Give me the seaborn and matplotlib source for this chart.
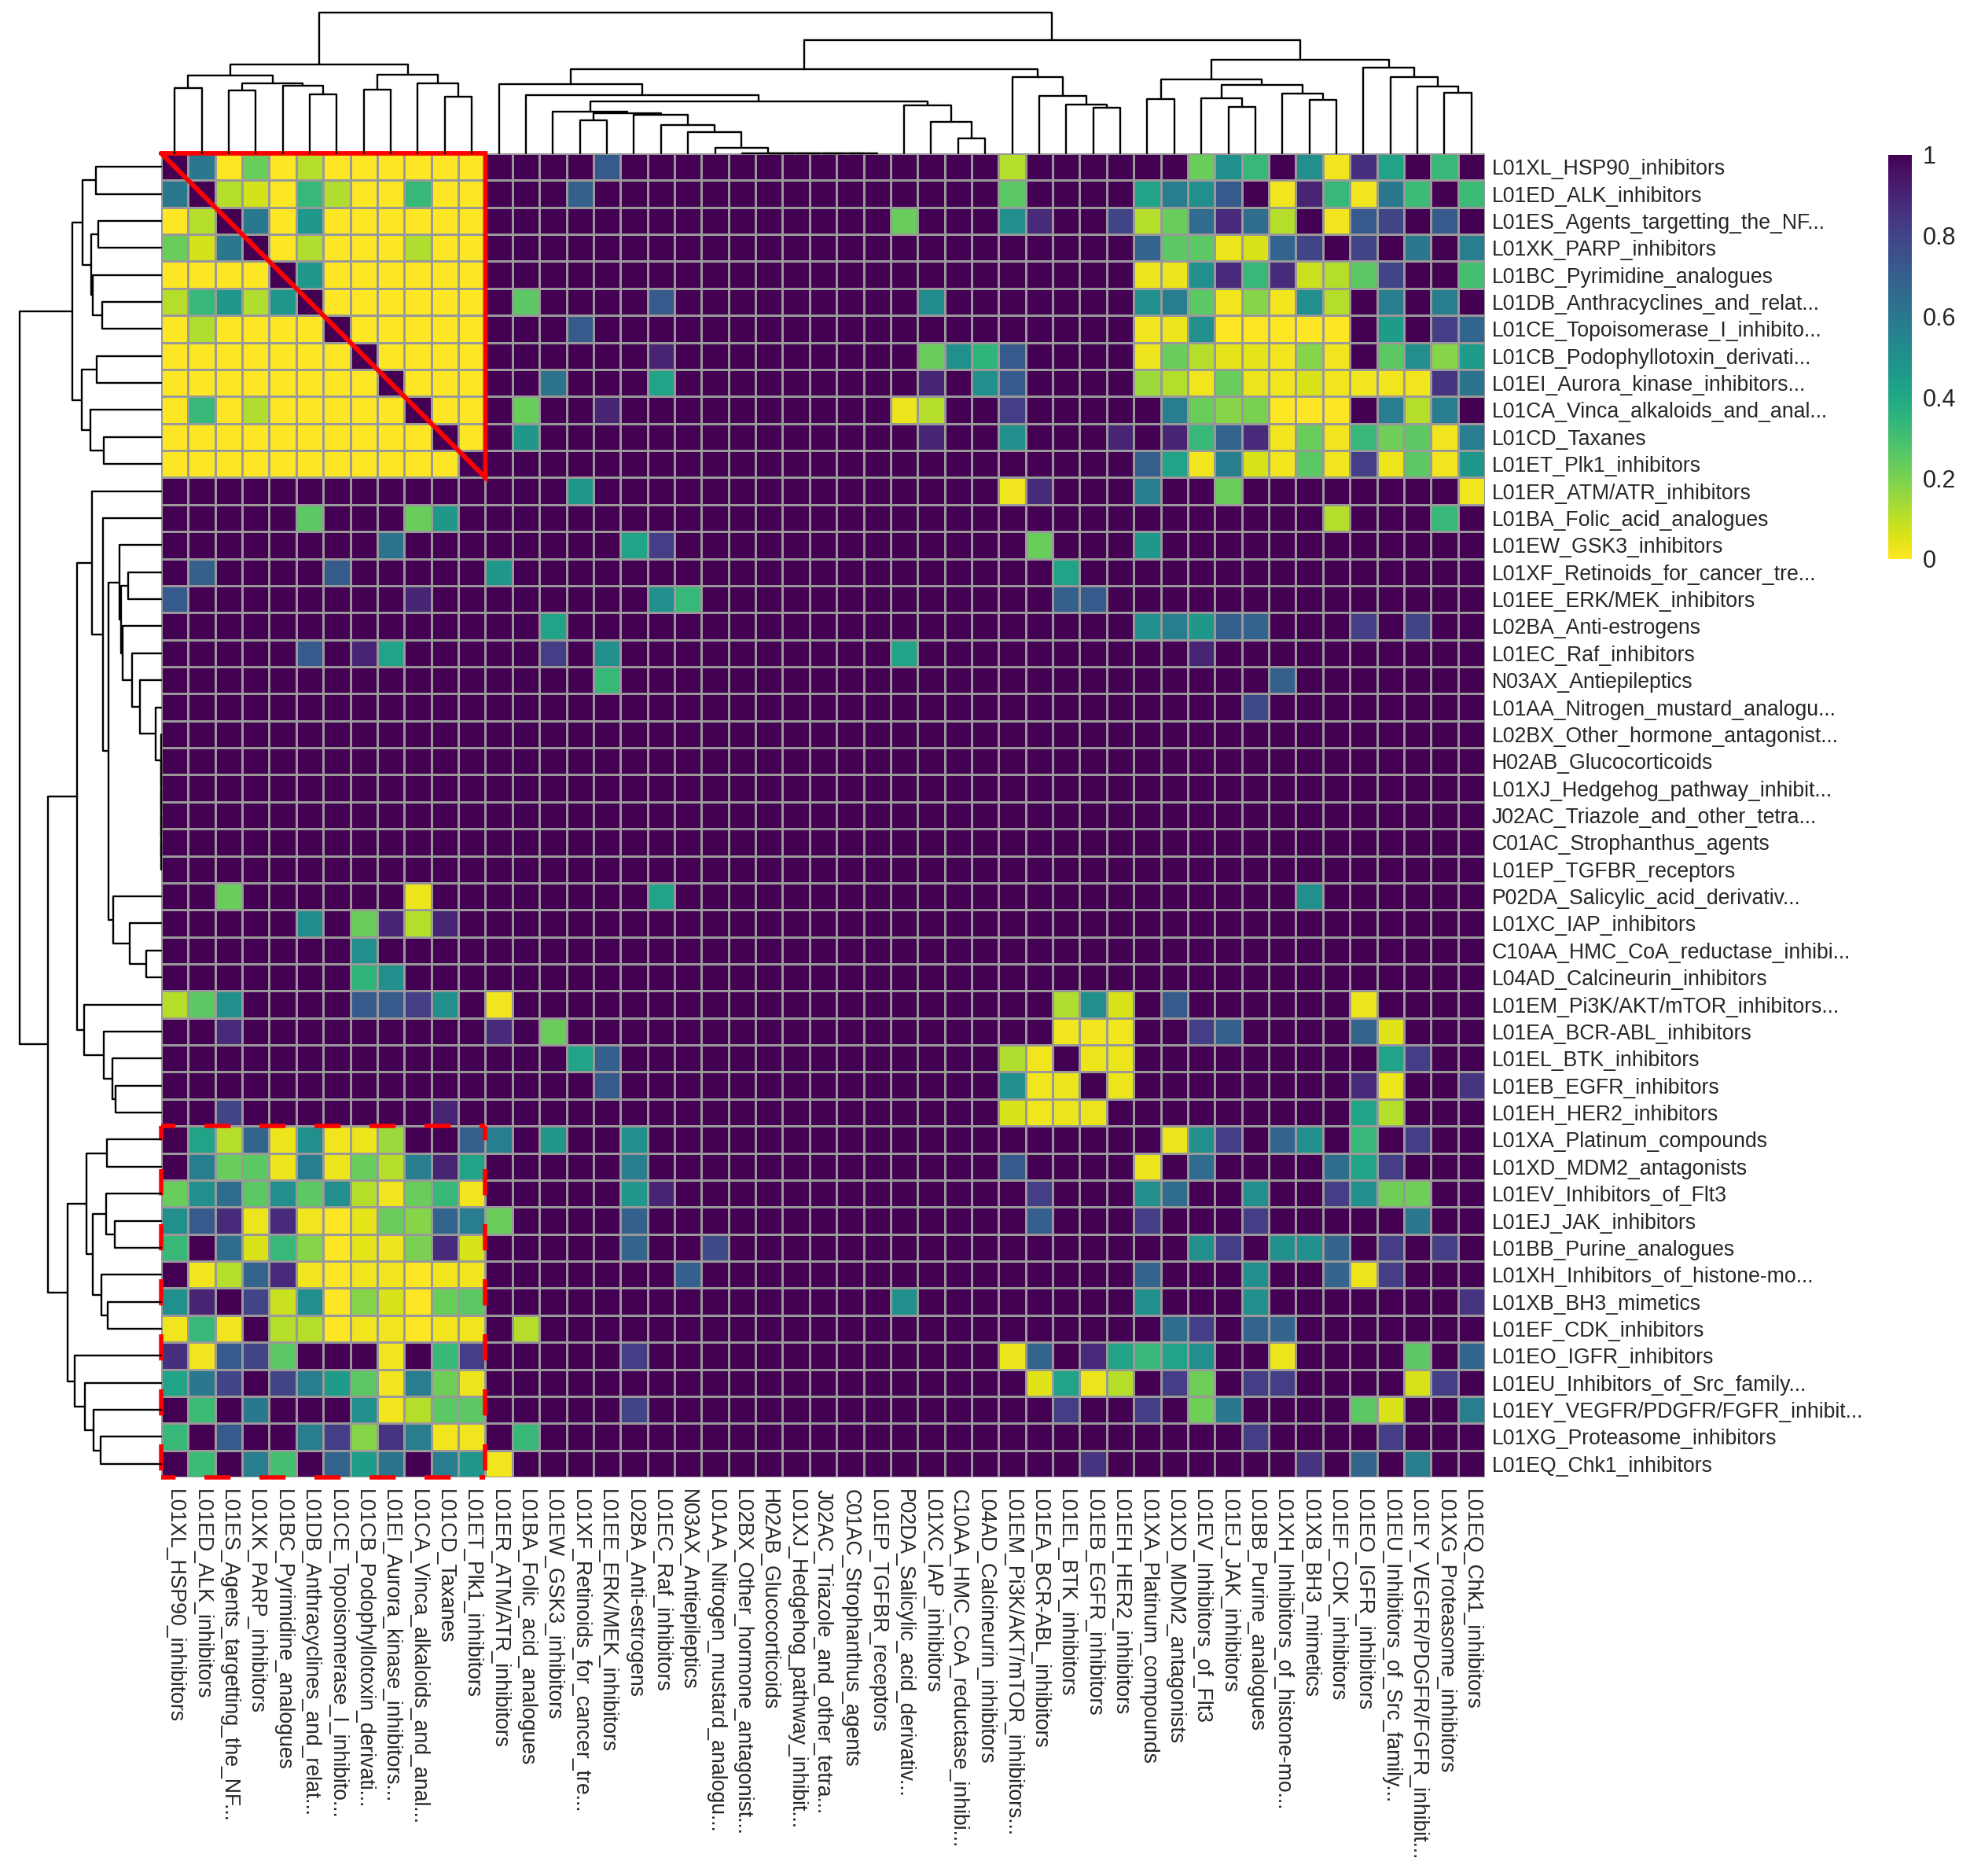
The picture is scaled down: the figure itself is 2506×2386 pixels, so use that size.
import numpy as np
import pandas as pd
import matplotlib
matplotlib.use("Agg")
import matplotlib.pyplot as plt
import seaborn as sns

# drug classes, same order for rows and columns (clustered order)
labels = [
    "L01XL_HSP90_inhibitors",
    "L01ED_ALK_inhibitors",
    "L01ES_Agents_targetting_the_NF...",
    "L01XK_PARP_inhibitors",
    "L01BC_Pyrimidine_analogues",
    "L01DB_Anthracyclines_and_relat...",
    "L01CE_Topoisomerase_I_inhibito...",
    "L01CB_Podophyllotoxin_derivati...",
    "L01EI_Aurora_kinase_inhibitors...",
    "L01CA_Vinca_alkaloids_and_anal...",
    "L01CD_Taxanes",
    "L01ET_Plk1_inhibitors",
    "L01ER_ATM/ATR_inhibitors",
    "L01BA_Folic_acid_analogues",
    "L01EW_GSK3_inhibitors",
    "L01XF_Retinoids_for_cancer_tre...",
    "L01EE_ERK/MEK_inhibitors",
    "L02BA_Anti-estrogens",
    "L01EC_Raf_inhibitors",
    "N03AX_Antiepileptics",
    "L01AA_Nitrogen_mustard_analogu...",
    "L02BX_Other_hormone_antagonist...",
    "H02AB_Glucocorticoids",
    "L01XJ_Hedgehog_pathway_inhibit...",
    "J02AC_Triazole_and_other_tetra...",
    "C01AC_Strophanthus_agents",
    "L01EP_TGFBR_receptors",
    "P02DA_Salicylic_acid_derivativ...",
    "L01XC_IAP_inhibitors",
    "C10AA_HMC_CoA_reductase_inhibi...",
    "L04AD_Calcineurin_inhibitors",
    "L01EM_Pi3K/AKT/mTOR_inhibitors...",
    "L01EA_BCR-ABL_inhibitors",
    "L01EL_BTK_inhibitors",
    "L01EB_EGFR_inhibitors",
    "L01EH_HER2_inhibitors",
    "L01XA_Platinum_compounds",
    "L01XD_MDM2_antagonists",
    "L01EV_Inhibitors_of_Flt3",
    "L01EJ_JAK_inhibitors",
    "L01BB_Purine_analogues",
    "L01XH_Inhibitors_of_histone-mo...",
    "L01XB_BH3_mimetics",
    "L01EF_CDK_inhibitors",
    "L01EO_IGFR_inhibitors",
    "L01EU_Inhibitors_of_Src_family...",
    "L01EY_VEGFR/PDGFR/FGFR_inhibit...",
    "L01XG_Proteasome_inhibitors",
    "L01EQ_Chk1_inhibitors",
]

# the first 12 classes: pairwise values are 0 except these (row, col, value)
first_cluster = labels[:12]
first_cluster_cells = [
    (0, 1, .60), (0, 3, .23), (0, 5, .11),
    (1, 2, .11), (1, 3, .07), (1, 5, .33), (1, 6, .12), (1, 9, .33),
    (2, 3, .60), (2, 5, .47),
    (3, 5, .12), (3, 9, .12),
    (4, 5, .47),
]

# everything else is 1 except these cells (upper triangle, matrix is symmetric)
other_cells = [
    (0, 16, .72), (0, 31, .11), (0, 38, .23), (0, 39, .50), (0, 40, .33), (0, 42, .50),
    (0, 43, .02), (0, 44, .86), (0, 45, .42), (0, 47, .33),
    (1, 15, .70), (1, 31, .25), (1, 36, .42), (1, 37, .58), (1, 38, .50), (1, 39, .72),
    (1, 41, .02), (1, 42, .90), (1, 43, .33), (1, 44, .02), (1, 45, .60), (1, 46, .32), (1, 48, .32),
    (2, 27, .23), (2, 31, .50), (2, 32, .88), (2, 35, .80), (2, 36, .11), (2, 37, .23),
    (2, 38, .65), (2, 39, .88), (2, 40, .65), (2, 41, .11), (2, 43, .02), (2, 44, .72),
    (2, 45, .80), (2, 47, .72),
    (3, 36, .68), (3, 37, .25), (3, 38, .25), (3, 39, .03), (3, 40, .06), (3, 41, .68),
    (3, 42, .80), (3, 44, .80), (3, 46, .60), (3, 48, .58),
    (4, 36, .03), (4, 37, .03), (4, 38, .50), (4, 39, .88), (4, 40, .33), (4, 41, .88),
    (4, 42, .08), (4, 43, .11), (4, 44, .25), (4, 45, .80), (4, 48, .30),
    (5, 13, .25), (5, 18, .72), (5, 28, .52), (5, 36, .50), (5, 37, .58), (5, 38, .25),
    (5, 39, .02), (5, 40, .18), (5, 41, .02), (5, 42, .50), (5, 43, .11), (5, 45, .58), (5, 47, .58),
    (6, 15, .72), (6, 36, .02), (6, 37, .03), (6, 38, .50), (6, 39, .0), (6, 40, .0),
    (6, 41, .0), (6, 42, .0), (6, 43, .0), (6, 45, .45), (6, 47, .82), (6, 48, .68),
    (7, 18, .90), (7, 28, .23), (7, 29, .50), (7, 30, .35), (7, 31, .72), (7, 36, .03),
    (7, 37, .23), (7, 38, .11), (7, 39, .04), (7, 40, .04), (7, 41, .02), (7, 42, .18),
    (7, 43, .02), (7, 45, .25), (7, 46, .50), (7, 47, .18), (7, 48, .45),
    (8, 14, .62), (8, 18, .42), (8, 28, .90), (8, 30, .50), (8, 31, .72), (8, 36, .15),
    (8, 37, .11), (8, 38, .02), (8, 39, .23), (8, 40, .03), (8, 41, .02), (8, 42, .06),
    (8, 43, .02), (8, 44, .02), (8, 45, .02), (8, 46, .02), (8, 47, .85), (8, 48, .62),
    (9, 13, .23), (9, 16, .90), (9, 27, .03), (9, 28, .11), (9, 31, .82), (9, 37, .58),
    (9, 38, .23), (9, 39, .18), (9, 40, .20), (9, 41, .0), (9, 42, .0), (9, 43, .0),
    (9, 45, .58), (9, 46, .11), (9, 47, .58),
    (10, 13, .47), (10, 28, .90), (10, 31, .50), (10, 35, .90), (10, 37, .90), (10, 38, .33),
    (10, 39, .68), (10, 40, .88), (10, 41, .02), (10, 42, .23), (10, 43, .02), (10, 44, .33),
    (10, 45, .22), (10, 46, .25), (10, 47, .02), (10, 48, .58),
    (11, 36, .70), (11, 37, .42), (11, 38, .02), (11, 39, .58), (11, 40, .06), (11, 41, .02),
    (11, 42, .25), (11, 43, .02), (11, 44, .82), (11, 45, .03), (11, 46, .25), (11, 47, .02),
    (11, 48, .47),
    (12, 15, .47), (12, 31, .02), (12, 32, .88), (12, 36, .58), (12, 39, .23), (12, 48, .02),
    (13, 43, .11), (13, 47, .33),
    (14, 17, .42), (14, 18, .82), (14, 32, .23), (14, 36, .47),
    (15, 33, .42),
    (16, 18, .50), (16, 19, .33), (16, 33, .70), (16, 34, .72),
    (17, 36, .50), (17, 37, .58), (17, 38, .47), (17, 39, .70), (17, 40, .68), (17, 44, .82), (17, 46, .80),
    (18, 27, .42), (18, 38, .90),
    (19, 41, .70),
    (20, 40, .78),
    (27, 42, .50),
    (31, 33, .12), (31, 34, .50), (31, 35, .06), (31, 37, .72), (31, 44, .03),
    (32, 33, .02), (32, 34, .02), (32, 35, .02), (32, 38, .82), (32, 39, .70), (32, 44, .68), (32, 45, .05),
    (33, 34, .03), (33, 35, .03), (33, 45, .42), (33, 46, .82),
    (34, 35, .03), (34, 44, .88), (34, 45, .03), (34, 48, .85),
    (35, 44, .42), (35, 45, .11),
    (36, 37, .03), (36, 38, .50), (36, 39, .82), (36, 41, .68), (36, 42, .50), (36, 44, .33), (36, 46, .82),
    (37, 38, .65), (37, 43, .65), (37, 44, .42), (37, 45, .82),
    (38, 40, .50), (38, 43, .82), (38, 44, .50), (38, 45, .22), (38, 46, .22),
    (39, 40, .82), (39, 46, .60),
    (40, 41, .50), (40, 42, .50), (40, 43, .68), (40, 45, .82), (40, 47, .82),
    (41, 43, .68), (41, 44, .03), (41, 45, .82),
    (42, 48, .85),
    (44, 46, .25), (44, 48, .68),
    (45, 46, .06), (45, 47, .82),
    (46, 48, .58),
]

# hierarchical clustering: (left id, right id, height); new ids start at 49
merges = [
    (0, 1, 250), (2, 3, 240), (5, 6, 225), (4, 51, 260), (50, 52, 267),      # 49-53
    (49, 53, 300), (7, 8, 245), (10, 11, 218), (9, 56, 270), (55, 57, 302),  # 54-58
    (54, 58, 340),                                                          # 59
    (25, 26, 0), (24, 60, 0), (23, 61, 0), (22, 62, 0), (21, 63, 0),         # 60-64
    (20, 64, 20), (19, 65, 80), (18, 66, 110), (17, 67, 148), (15, 16, 127), # 65-69
    (69, 68, 153), (14, 70, 160), (29, 30, 57), (28, 72, 120), (27, 73, 183),# 70-74
    (71, 74, 200), (13, 75, 222), (12, 76, 265),                            # 75-77
    (34, 35, 175), (33, 78, 187), (32, 79, 220), (31, 80, 293), (77, 81, 322),  # 78-82
    (36, 37, 207), (39, 40, 178), (38, 84, 210), (42, 43, 205), (41, 86, 228),  # 83-87
    (85, 87, 262), (83, 88, 285),                                           # 88-89
    (47, 48, 232), (46, 90, 257), (45, 91, 292), (44, 92, 330),             # 90-93
    (89, 93, 358), (82, 94, 433), (59, 95, 540),                            # 94-96
]

sns.set_style("white")
plt.rcParams["font.family"] = ["Liberation Sans", "DejaVu Sans"]

n = len(labels)
k = len(first_cluster)
mat = np.ones((n, n))
mat[:k, :k] = 0.0
for i, j, v in first_cluster_cells + other_cells:
    mat[i, j] = v
    mat[j, i] = v
np.fill_diagonal(mat, 1.0)
df = pd.DataFrame(mat, index=labels, columns=labels)

W, H = 2506, 2386
fig = plt.figure(figsize=(W / 200, H / 200), dpi=200)


def box(x0, y0, x1, y1):
    return [x0 / W, 1 - y1 / H, (x1 - x0) / W, (y1 - y0) / H]


ax = fig.add_axes(box(205, 195, 1889, 1879))
ax_top = fig.add_axes(box(205, 16, 1889, 195))
ax_left = fig.add_axes(box(25, 195, 205, 1879))
cax = fig.add_axes(box(2402, 197, 2432, 711))

sns.heatmap(df, ax=ax, cmap="viridis_r", vmin=0, vmax=1,
            linewidths=1.0, linecolor="#999999", cbar_ax=cax,
            xticklabels=True, yticklabels=True)

ax.yaxis.tick_right()
ax.set_yticks(np.arange(n) + 0.5)
ax.set_yticklabels(labels, rotation=0, fontsize=9.6)
ax.set_xticks(np.arange(n) + 0.5)
ax.set_xticklabels(labels, rotation=-90, fontsize=9.6)
ax.tick_params(axis="both", length=0)
ax.tick_params(axis="y", pad=3.2)
ax.tick_params(axis="x", pad=5.4)
ax.set_xlabel("")
ax.set_ylabel("")

# colour legend
cbar = ax.collections[0].colorbar
cbar.set_ticks([0, 0.2, 0.4, 0.6, 0.8, 1])
cbar.set_ticklabels(["0", "0.2", "0.4", "0.6", "0.8", "1"])
cbar.outline.set_visible(False)
cax.tick_params(length=0, labelsize=11, pad=5)

# dendrograms
pos = {i: (i + 0.5, 0.0) for i in range(n)}
for idx, (a, b, h) in enumerate(merges):
    xa, ha = pos[a]
    xb, hb = pos[b]
    ax_top.plot([xa, xa, xb, xb], [ha, h, h, hb], color="black", lw=0.85, clip_on=False)
    ax_left.plot([ha, h, h, hb], [xa, xa, xb, xb], color="black", lw=0.85, clip_on=False)
    pos[n + idx] = ((xa + xb) / 2, h)
root_h = merges[-1][2]
ax_top.set_xlim(0, n)
ax_top.set_ylim(0, root_h)
ax_left.set_ylim(n, 0)
ax_left.set_xlim(root_h, 0)
ax_top.axis("off")
ax_left.axis("off")

# highlight: solid triangle over the first cluster, dashed box below it
ax.plot([0, k, k, 0], [0, 0, k, 0], color="red", lw=2.1, clip_on=False,
        solid_joinstyle="miter", zorder=5)
b0 = 36
dash = (2.7, (6.0, 6.6))
for xs, ys in [([0, k], [b0, b0]), ([k, k], [b0, n]), ([0, k], [n, n]), ([0, 0], [b0, n])]:
    ax.plot(xs, ys, color="red", lw=2.0, linestyle=dash, clip_on=False, zorder=5)

fig.savefig("out.png", dpi=200)
